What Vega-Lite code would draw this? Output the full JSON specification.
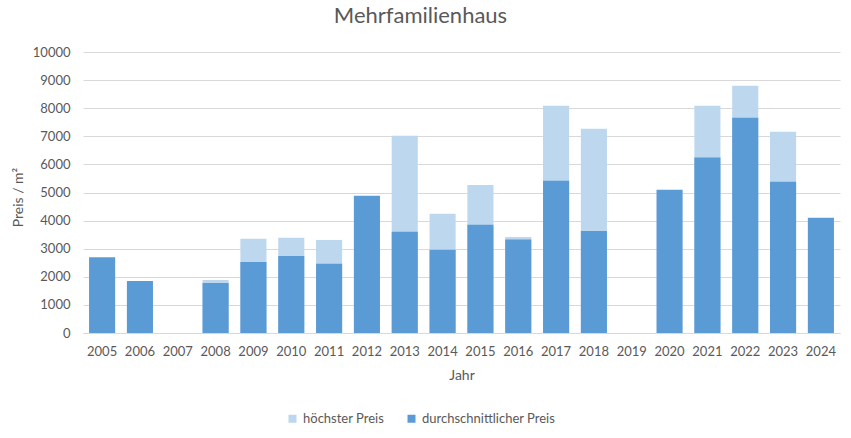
{
  "$schema": "https://vega.github.io/schema/vega-lite/v6.json",
  "autosize": {"type": "none"},
  "width": 757,
  "height": 281,
  "padding": {"left": 83, "top": 52, "right": 11, "bottom": 105},
  "background": "white",
  "config": {
    "font": "Lato",
    "view": {"stroke": null}
  },
  "title": {
    "text": "Mehrfamilienhaus",
    "fontSize": 22,
    "fontWeight": "normal",
    "color": "#595959",
    "anchor": "middle",
    "dx": -41,
    "baseline": "alphabetic",
    "offset": 1
  },
  "data": {
    "values": [
      {"Jahr": "2008", "Serie": "höchster Preis", "Preis": 1890},
      {"Jahr": "2009", "Serie": "höchster Preis", "Preis": 3350},
      {"Jahr": "2010", "Serie": "höchster Preis", "Preis": 3390},
      {"Jahr": "2011", "Serie": "höchster Preis", "Preis": 3310},
      {"Jahr": "2013", "Serie": "höchster Preis", "Preis": 7020},
      {"Jahr": "2014", "Serie": "höchster Preis", "Preis": 4240},
      {"Jahr": "2015", "Serie": "höchster Preis", "Preis": 5270},
      {"Jahr": "2016", "Serie": "höchster Preis", "Preis": 3420},
      {"Jahr": "2017", "Serie": "höchster Preis", "Preis": 8090},
      {"Jahr": "2018", "Serie": "höchster Preis", "Preis": 7270},
      {"Jahr": "2021", "Serie": "höchster Preis", "Preis": 8090},
      {"Jahr": "2022", "Serie": "höchster Preis", "Preis": 8800},
      {"Jahr": "2023", "Serie": "höchster Preis", "Preis": 7160},
      {"Jahr": "2005", "Serie": "durchschnittlicher Preis", "Preis": 2700},
      {"Jahr": "2006", "Serie": "durchschnittlicher Preis", "Preis": 1850},
      {"Jahr": "2008", "Serie": "durchschnittlicher Preis", "Preis": 1780},
      {"Jahr": "2009", "Serie": "durchschnittlicher Preis", "Preis": 2530},
      {"Jahr": "2010", "Serie": "durchschnittlicher Preis", "Preis": 2740},
      {"Jahr": "2011", "Serie": "durchschnittlicher Preis", "Preis": 2460},
      {"Jahr": "2012", "Serie": "durchschnittlicher Preis", "Preis": 4880},
      {"Jahr": "2013", "Serie": "durchschnittlicher Preis", "Preis": 3600},
      {"Jahr": "2014", "Serie": "durchschnittlicher Preis", "Preis": 2960},
      {"Jahr": "2015", "Serie": "durchschnittlicher Preis", "Preis": 3850},
      {"Jahr": "2016", "Serie": "durchschnittlicher Preis", "Preis": 3330},
      {"Jahr": "2017", "Serie": "durchschnittlicher Preis", "Preis": 5415},
      {"Jahr": "2018", "Serie": "durchschnittlicher Preis", "Preis": 3630},
      {"Jahr": "2020", "Serie": "durchschnittlicher Preis", "Preis": 5095},
      {"Jahr": "2021", "Serie": "durchschnittlicher Preis", "Preis": 6250},
      {"Jahr": "2022", "Serie": "durchschnittlicher Preis", "Preis": 7660},
      {"Jahr": "2023", "Serie": "durchschnittlicher Preis", "Preis": 5380},
      {"Jahr": "2024", "Serie": "durchschnittlicher Preis", "Preis": 4100}
    ]
  },
  "mark": {"type": "bar"},
  "encoding": {
    "x": {
      "field": "Jahr",
      "type": "ordinal",
      "scale": {
        "domain": ["2005","2006","2007","2008","2009","2010","2011","2012","2013","2014","2015","2016","2017","2018","2019","2020","2021","2022","2023","2024"],
        "paddingInner": 0.31,
        "paddingOuter": 0.16
      },
      "axis": {
        "title": "Jahr",
        "labelAngle": 0,
        "labelFontSize": 13,
        "labelColor": "#595959",
        "labelPadding": 12,
        "ticks": false,
        "domainColor": "#D9D9D9",
        "titleFontSize": 14,
        "titleFontWeight": "normal",
        "titleColor": "#595959",
        "titlePadding": 10
      }
    },
    "y": {
      "field": "Preis",
      "type": "quantitative",
      "stack": null,
      "scale": {"domain": [0, 10000], "nice": false},
      "axis": {
        "title": "Preis / m²",
        "values": [0,1000,2000,3000,4000,5000,6000,7000,8000,9000,10000],
        "format": "d",
        "labelFontSize": 13,
        "labelColor": "#595959",
        "labelPadding": 13,
        "ticks": false,
        "domain": false,
        "gridColor": "#D9D9D9",
        "titleFontSize": 14,
        "titleFontWeight": "normal",
        "titleColor": "#595959",
        "titleX": -65,
        "titleY": 145,
        "titleBaseline": "middle",
        "titleAlign": "center"
      }
    },
    "color": {
      "field": "Serie",
      "type": "nominal",
      "scale": {
        "domain": ["höchster Preis", "durchschnittlicher Preis"],
        "range": ["#BDD7EE", "#5B9BD5"]
      },
      "legend": {
        "title": null,
        "orient": "none",
        "direction": "horizontal",
        "legendX": 203,
        "legendY": 360,
        "symbolType": "square",
        "symbolSize": 64,
        "symbolStrokeWidth": 0,
        "labelFontSize": 13,
        "labelColor": "#595959",
        "labelOffset": 4,
        "columnPadding": 20
      }
    }
  }
}
